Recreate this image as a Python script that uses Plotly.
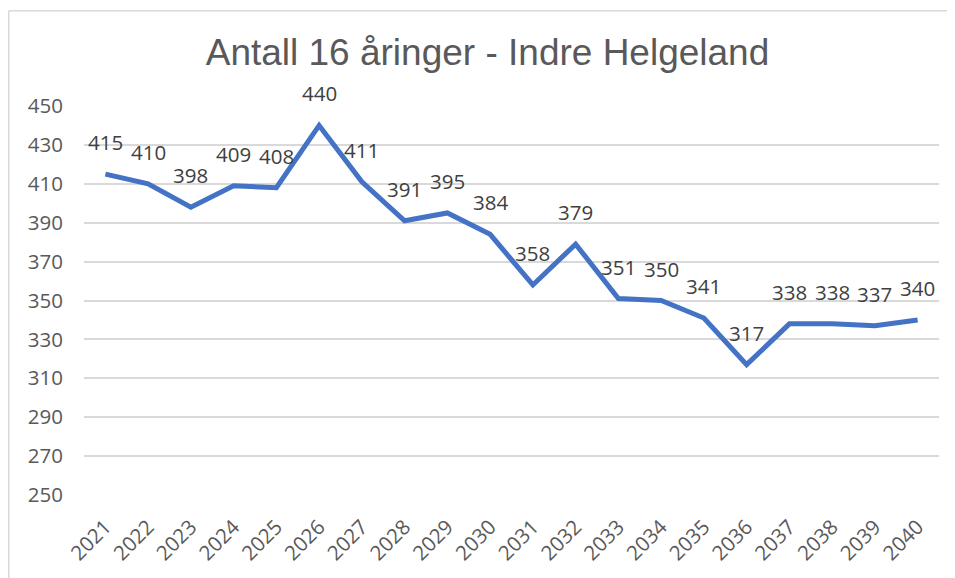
import plotly.graph_objects as go

years = list(range(2021, 2041))
values = [415, 410, 398, 409, 408, 440, 411, 391, 395, 384,
          358, 379, 351, 350, 341, 317, 338, 338, 337, 340]
y_ticks = list(range(250, 451, 20))
title_text = "Antall 16 åringer - Indre Helgeland"

fig = go.Figure()
fig.add_trace(go.Scatter(
    x=years, y=values, mode="lines",
    line=dict(color="#4472C4", width=5),
    hoverinfo="skip", showlegend=False,
))

for x, v in zip(years, values):
    fig.add_annotation(
        x=x, y=v, text=str(v), showarrow=False, yshift=32,
        font=dict(family="Open Sans", size=20.5, color="#404040"),
    )

# page is offset by the default 8px body margin
W, H = 947, 570
L, R, T, B = 76, 16, 98, 80
pw, ph = W - L - R, H - T - B

fig.update_layout(
    width=W, height=H,
    margin=dict(l=L, r=R, t=T, b=B),
    paper_bgcolor="white", plot_bgcolor="white",
    title=dict(text=title_text, x=479.5 / W, xanchor="center", y=1 - 44 / H, yanchor="middle",
               font=dict(family="Liberation Sans", size=37, color="#595959")),
    xaxis=dict(
        range=[years[0] - 0.5, years[-1] + 0.5], tickvals=years,
        ticktext=[str(y) for y in years],
        tickangle=-45, showgrid=False, zeroline=False,
        showline=False, ticks="", ticklabelstandoff=15,
        tickfont=dict(family="Open Sans", size=20.5, color="#595959"),
    ),
    yaxis=dict(
        range=[250, 450], tickvals=y_ticks, showgrid=True, gridcolor="#D9D9D9",
        gridwidth=1.5, zeroline=False, showline=False, ticks="",
        ticklabelstandoff=20,
        tickfont=dict(family="Open Sans", size=20.5, color="#595959"),
    ),
    shapes=[
        dict(type="line", xref="paper", yref="paper",
             x0=(0.75 - L) / pw, x1=(W + 5 - L) / pw,
             y0=1 + (T - 2) / ph, y1=1 + (T - 2) / ph,
             line=dict(color="#D9D9D9", width=1.5)),
        dict(type="line", xref="paper", yref="paper",
             x0=(0.75 - L) / pw, x1=(0.75 - L) / pw,
             y0=1 + (T - 2) / ph, y1=-(B + 5) / ph,
             line=dict(color="#D9D9D9", width=1.5)),
    ],
)

fig.write_html("out.html")
